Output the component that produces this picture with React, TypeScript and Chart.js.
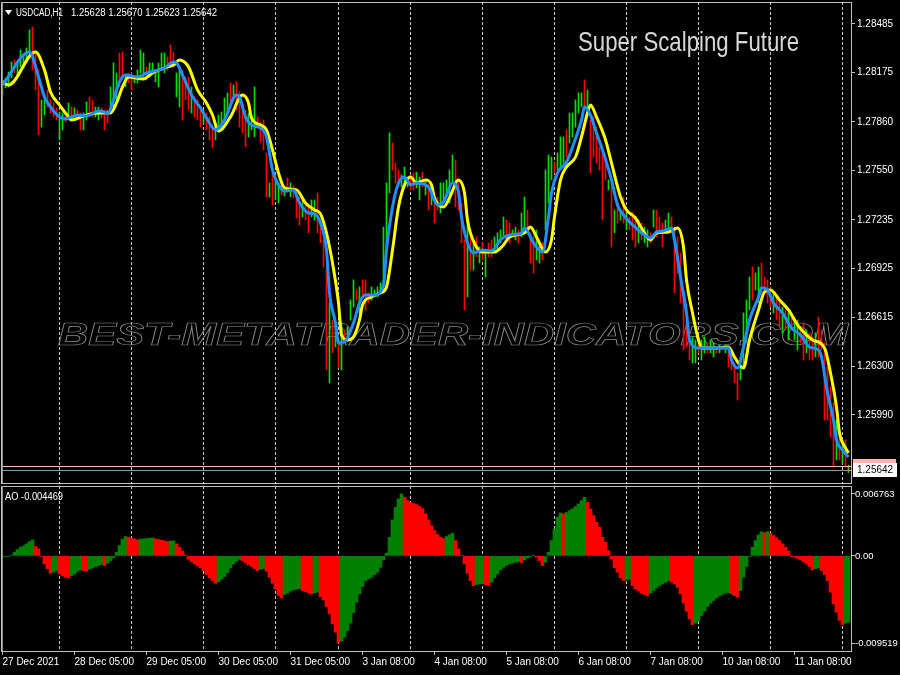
import React, { useEffect, useRef } from 'react';
import { Chart, registerables } from 'chart.js';

Chart.register(...registerables);

// ---------- data ----------
const tickLabels = ['27 Dec 2021', '28 Dec 05:00', '29 Dec 05:00', '30 Dec 05:00', '31 Dec 05:00', '3 Jan 08:00', '4 Jan 08:00', '5 Jan 08:00', '6 Jan 08:00', '7 Jan 08:00', '10 Jan 08:00', '11 Jan 08:00'];
const tickIdx = [0, 24, 48, 72, 96, 120, 144, 168, 192, 216, 240, 264];
const dayStartIdx = [19, 43, 67, 91, 112, 136, 160, 184, 208, 232, 256, 280];
const priceTicks = [1.28485, 1.28175, 1.2786, 1.2755, 1.27235, 1.26925, 1.26615, 1.263, 1.2599];
const aoTicks = [0.006763, 0, -0.009519];

const highs = [
  1.28128, 1.2814, 1.28178, 1.28242, 1.28255, 1.28242, 1.28319, 1.28287, 1.28332, 1.28447,
  1.28465, 1.283, 1.28191, 1.28, 1.28032, 1.28064, 1.28, 1.27981, 1.27949, 1.27923,
  1.27917, 1.27923, 1.27981, 1.27955, 1.27949, 1.27936, 1.27917, 1.27917, 1.27987, 1.28019,
  1.28, 1.27955, 1.27955, 1.27949, 1.27936, 1.27936, 1.28083, 1.28236, 1.28172, 1.283,
  1.28306, 1.28159, 1.28172, 1.28172, 1.28146, 1.28191, 1.28319, 1.283, 1.2821, 1.28236,
  1.28236, 1.28191, 1.28236, 1.283, 1.283, 1.28274, 1.28351, 1.28306, 1.28172, 1.28191,
  1.28191, 1.28146, 1.28146, 1.28083, 1.28019, 1.28, 1.27955, 1.27936, 1.27917, 1.27891,
  1.27827, 1.27853, 1.27904, 1.27923, 1.28013, 1.28045, 1.28109, 1.28096, 1.28115, 1.28051,
  1.27981, 1.27936, 1.27917, 1.27904, 1.28083, 1.27891, 1.27859, 1.27872, 1.27662, 1.27471,
  1.27534, 1.2749, 1.27471, 1.27458, 1.27452, 1.27502, 1.27471, 1.27452, 1.27407, 1.27381,
  1.27362, 1.27343, 1.27317, 1.27362, 1.27362, 1.27407, 1.27234, 1.27107, 1.26934, 1.26705,
  1.26596, 1.26577, 1.26469, 1.26583, 1.26533, 1.26551, 1.26724, 1.26852, 1.26788, 1.26807,
  1.26852, 1.26852, 1.26769, 1.26807, 1.26788, 1.26807, 1.26833, 1.27189, 1.27471, 1.2779,
  1.27726, 1.27598, 1.27553, 1.27521, 1.27572, 1.27508, 1.27521, 1.27534, 1.2754, 1.27508,
  1.2754, 1.2749, 1.27458, 1.27439, 1.27343, 1.27381, 1.27471, 1.27471, 1.2749, 1.27553,
  1.27649, 1.27617, 1.27471, 1.27343, 1.27107, 1.27234, 1.27126, 1.27088, 1.27126, 1.27062,
  1.27088, 1.27043, 1.27088, 1.27107, 1.27126, 1.27152, 1.27171, 1.27253, 1.27234, 1.27215,
  1.27171, 1.27189, 1.27171, 1.27279, 1.27381, 1.27298, 1.27152, 1.27126, 1.27171, 1.27088,
  1.27088, 1.27553, 1.27649, 1.27636, 1.27598, 1.27662, 1.27764, 1.27764, 1.27809, 1.27917,
  1.27917, 1.28, 1.28045, 1.28045, 1.28128, 1.28064, 1.27872, 1.27891, 1.27827, 1.277,
  1.27681, 1.27636, 1.2749, 1.27471, 1.27298, 1.27343, 1.27298, 1.27381, 1.27279, 1.27253,
  1.27285, 1.27253, 1.27234, 1.27215, 1.27189, 1.27171, 1.27152, 1.27298, 1.27298, 1.27253,
  1.27215, 1.27234, 1.27279, 1.27253, 1.27189, 1.27126, 1.27024, 1.26769, 1.26596, 1.26514,
  1.26488, 1.26469, 1.2645, 1.26469, 1.26488, 1.2645, 1.26469, 1.2645, 1.26424, 1.26437,
  1.26424, 1.26437, 1.26405, 1.26386, 1.26322, 1.26258, 1.26296, 1.26641, 1.26724, 1.2687,
  1.26934, 1.26896, 1.26934, 1.2696, 1.2687, 1.26852, 1.26807, 1.26769, 1.26743, 1.26724,
  1.26679, 1.2666, 1.26641, 1.26641, 1.26615, 1.26596, 1.26551, 1.26577, 1.26533, 1.26514,
  1.26488, 1.26514, 1.26615, 1.26533, 1.2645, 1.26296, 1.26169, 1.26067, 1.25958, 1.25876,
  1.25831, 1.25831, 1.2567,
];

const lows = [
  1.28032, 1.28077, 1.28083, 1.2814, 1.28172, 1.28159, 1.2821, 1.28204, 1.28236, 1.28274,
  1.28191, 1.28064, 1.27777, 1.27827, 1.27904, 1.27955, 1.27917, 1.27891, 1.27872, 1.27745,
  1.27809, 1.27859, 1.27872, 1.27872, 1.27891, 1.27872, 1.27809, 1.27809, 1.27872, 1.27917,
  1.27891, 1.27891, 1.27872, 1.27885, 1.27809, 1.27853, 1.27917, 1.27955, 1.28, 1.28083,
  1.28146, 1.28083, 1.28109, 1.28064, 1.28109, 1.28109, 1.28172, 1.28146, 1.28128, 1.28146,
  1.28172, 1.28115, 1.28083, 1.28191, 1.28172, 1.28191, 1.2821, 1.2821, 1.28019, 1.27955,
  1.27872, 1.28, 1.27936, 1.27917, 1.27891, 1.27872, 1.27827, 1.27853, 1.27809, 1.27745,
  1.27694, 1.27745, 1.27796, 1.27827, 1.27853, 1.27917, 1.27981, 1.28, 1.27936, 1.27827,
  1.2779, 1.277, 1.27764, 1.27809, 1.27764, 1.27827, 1.27732, 1.27681, 1.27381, 1.27381,
  1.2733, 1.27362, 1.27343, 1.27394, 1.27388, 1.27413, 1.27381, 1.27375, 1.27247, 1.27202,
  1.27253, 1.27234, 1.27152, 1.27253, 1.27234, 1.27152, 1.27088, 1.26934, 1.26277, 1.26195,
  1.26386, 1.26424, 1.2629, 1.26277, 1.2645, 1.26488, 1.26596, 1.26679, 1.26724, 1.26641,
  1.26743, 1.2666, 1.26705, 1.26724, 1.26743, 1.26743, 1.26769, 1.26788, 1.27062, 1.27407,
  1.27553, 1.27471, 1.27445, 1.27445, 1.27445, 1.27445, 1.27426, 1.27426, 1.27439, 1.27362,
  1.27445, 1.27394, 1.27298, 1.2733, 1.27215, 1.27298, 1.27279, 1.27343, 1.27381, 1.27343,
  1.27471, 1.27317, 1.27298, 1.27088, 1.2666, 1.26743, 1.26915, 1.26915, 1.26998, 1.2696,
  1.26979, 1.2687, 1.26998, 1.26998, 1.27024, 1.27043, 1.27088, 1.27126, 1.27107, 1.27088,
  1.27126, 1.27107, 1.27088, 1.27126, 1.27189, 1.27152, 1.2696, 1.26896, 1.26979, 1.2696,
  1.26979, 1.27171, 1.27343, 1.2749, 1.27534, 1.27553, 1.27572, 1.27598, 1.27636, 1.27726,
  1.27764, 1.27827, 1.27917, 1.27955, 1.27955, 1.27936, 1.27534, 1.27636, 1.27598, 1.27553,
  1.27234, 1.2749, 1.27426, 1.27062, 1.27152, 1.27215, 1.27234, 1.27215, 1.27171, 1.27171,
  1.27107, 1.27062, 1.27088, 1.27107, 1.27088, 1.27062, 1.27088, 1.27189, 1.27126, 1.27152,
  1.27062, 1.27152, 1.27171, 1.27152, 1.26769, 1.26896, 1.26705, 1.26405, 1.26424, 1.26341,
  1.26322, 1.26322, 1.26386, 1.26341, 1.26386, 1.26386, 1.26386, 1.2636, 1.26386, 1.26386,
  1.26405, 1.26386, 1.26296, 1.26277, 1.26195, 1.26086, 1.26214, 1.26296, 1.26469, 1.2666,
  1.26724, 1.26788, 1.26705, 1.26743, 1.26769, 1.26705, 1.26679, 1.26641, 1.26596, 1.26551,
  1.26514, 1.26533, 1.26469, 1.26551, 1.26469, 1.26405, 1.2645, 1.26341, 1.26386, 1.26341,
  1.26341, 1.2636, 1.2636, 1.26405, 1.25958, 1.25958, 1.2585, 1.25658, 1.25703, 1.25703,
  1.25684, 1.25658, 1.25623,
];

const upBars = [
  0, 1, 1, 1, 0, 1, 1, 1, 1, 1, 0, 0, 0, 1, 1, 0, 0, 0, 0, 1,
  1, 0, 1, 0, 1, 0, 0, 1, 1, 0, 0, 1, 1, 0, 0, 0, 1, 1, 1, 0,
  0, 1, 0, 0, 1, 1, 1, 1, 0, 1, 1, 1, 1, 1, 1, 0, 0, 0, 1, 1,
  0, 0, 0, 1, 0, 0, 0, 1, 0, 0, 0, 1, 1, 1, 1, 1, 0, 1, 0, 0,
  0, 0, 1, 1, 1, 0, 0, 0, 0, 1, 0, 1, 1, 0, 1, 0, 1, 0, 0, 0,
  1, 0, 0, 1, 1, 0, 0, 0, 0, 1, 0, 1, 0, 1, 0, 1, 1, 1, 0, 1,
  0, 0, 0, 1, 1, 1, 1, 1, 1, 1, 0, 0, 0, 1, 1, 1, 0, 0, 1, 1,
  0, 1, 0, 1, 0, 0, 1, 1, 1, 1, 1, 0, 0, 0, 0, 1, 0, 1, 0, 1,
  0, 1, 0, 0, 1, 1, 1, 1, 0, 0, 1, 1, 0, 1, 1, 0, 0, 0, 1, 1,
  0, 1, 1, 1, 0, 1, 1, 1, 0, 1, 1, 1, 1, 1, 0, 1, 0, 0, 0, 0,
  0, 0, 1, 0, 1, 0, 1, 0, 1, 0, 0, 0, 1, 0, 1, 1, 0, 1, 0, 0,
  0, 1, 1, 0, 0, 0, 0, 0, 0, 0, 1, 1, 0, 1, 1, 0, 1, 1, 0, 1,
  0, 1, 0, 0, 0, 0, 1, 1, 1, 1, 0, 1, 1, 0, 0, 0, 0, 1, 0, 0,
  1, 0, 1, 0, 1, 1, 0, 0, 1, 0, 0, 1, 0, 0, 0, 0, 0, 0, 1, 0,
  1, 0, 1,
];

const bluePoints = [
  [0, 1.28096], [9, 1.28306], [12, 1.28147], [14, 1.28019], [16, 1.27955], [19, 1.27892], [21, 1.27879], [25, 1.27904],
  [28, 1.27898], [32, 1.2793], [34, 1.27923], [35, 1.27911], [37, 1.28], [39, 1.28115], [41, 1.2816], [45, 1.28147],
  [48, 1.28172], [52, 1.28191], [54, 1.28204], [57, 1.28242], [58, 1.28236], [60, 1.2816], [63, 1.28032], [66, 1.27949],
  [68, 1.27885], [71, 1.27809], [74, 1.27872], [78, 1.28032], [79, 1.28019], [81, 1.27892], [83, 1.2784], [86, 1.27821],
  [88, 1.27764], [90, 1.27553], [92, 1.27458], [94, 1.27419], [97, 1.27426], [99, 1.27343], [102, 1.27279], [104, 1.27273],
  [106, 1.27215], [108, 1.27043], [109, 1.26769], [111, 1.26577], [112, 1.2645], [114, 1.26456], [117, 1.26577], [119, 1.26705],
  [121, 1.26756], [124, 1.26756], [127, 1.2682], [128, 1.27043], [130, 1.27317], [132, 1.2747], [134, 1.27509], [136, 1.27458],
  [138, 1.2747], [142, 1.27445], [145, 1.2733], [147, 1.27349], [150, 1.2747], [152, 1.27413], [153, 1.27254], [155, 1.27088],
  [157, 1.27024], [160, 1.27043], [163, 1.27037], [166, 1.27107], [169, 1.27139], [173, 1.27151], [174, 1.27183], [177, 1.27088],
  [180, 1.2703], [182, 1.27254], [183, 1.27407], [185, 1.27534], [188, 1.27604], [190, 1.277], [193, 1.27872], [194, 1.27955],
  [196, 1.27904], [198, 1.27789], [200, 1.27681], [203, 1.2749], [205, 1.2733], [207, 1.27266], [209, 1.27222], [214, 1.27139],
  [216, 1.2712], [218, 1.27158], [220, 1.27164], [223, 1.27183], [224, 1.27107], [226, 1.26871], [228, 1.26641], [229, 1.26469],
  [232, 1.26418], [235, 1.26418], [239, 1.26418], [242, 1.26418], [243, 1.26341], [245, 1.2629], [247, 1.26424], [249, 1.26596],
  [252, 1.26743], [253, 1.26801], [255, 1.26788], [257, 1.26705], [260, 1.26641], [263, 1.26545], [266, 1.26501], [269, 1.26424],
  [272, 1.26405], [273, 1.2636], [275, 1.26131], [277, 1.25958], [278, 1.25831], [280, 1.25767], [282, 1.25722],
];

const yellowPoints = [
  [0, 1.28115], [2, 1.28096], [11, 1.28306], [14, 1.28191], [16, 1.28051], [19, 1.27968], [22, 1.27892], [23, 1.27872],
  [27, 1.27898], [32, 1.27917], [36, 1.27917], [38, 1.27981], [40, 1.28083], [42, 1.28147], [47, 1.28134], [50, 1.28172],
  [55, 1.28211], [57, 1.28223], [59, 1.28255], [62, 1.28211], [65, 1.28064], [68, 1.27981], [70, 1.27904], [72, 1.27802],
  [76, 1.27892], [80, 1.28032], [82, 1.27981], [83, 1.27885], [86, 1.2784], [88, 1.27809], [90, 1.27681], [92, 1.27534],
  [94, 1.27439], [98, 1.27426], [101, 1.27343], [104, 1.27298], [106, 1.27273], [108, 1.27151], [110, 1.2696], [112, 1.26705],
  [113, 1.26501], [115, 1.26469], [117, 1.26488], [119, 1.26596], [120, 1.26692], [123, 1.26743], [126, 1.26769], [128, 1.26807],
  [130, 1.27043], [132, 1.27317], [134, 1.27458], [136, 1.27509], [138, 1.2747], [141, 1.2749], [143, 1.27458], [144, 1.27375],
  [147, 1.27317], [149, 1.27375], [152, 1.2749], [154, 1.27407], [155, 1.27234], [158, 1.27062], [160, 1.2703], [164, 1.2703],
  [167, 1.27075], [169, 1.27126], [174, 1.27151], [176, 1.2719], [178, 1.27126], [181, 1.2703], [183, 1.27107], [184, 1.27254],
  [186, 1.2749], [188, 1.27573], [191, 1.27636], [193, 1.27764], [195, 1.27917], [196, 1.27968], [198, 1.27892], [201, 1.27745],
  [203, 1.27598], [206, 1.27381], [208, 1.27298], [211, 1.27247], [213, 1.27183], [216, 1.27107], [218, 1.27151], [222, 1.27158],
  [225, 1.27183], [227, 1.27062], [228, 1.26852], [230, 1.26641], [232, 1.26469], [233, 1.26418], [238, 1.26418], [242, 1.26424],
  [244, 1.2636], [247, 1.2629], [249, 1.26469], [252, 1.2666], [254, 1.26775], [256, 1.26788], [259, 1.26724], [262, 1.2666],
  [265, 1.26565], [267, 1.2652], [270, 1.26469], [274, 1.26418], [276, 1.26258], [278, 1.26041], [279, 1.25876], [281, 1.2578],
  [282, 1.25748],
];

const aoValues = [
  -0.000109, -0.000073, -0.000036, 0.000073, 0.0004, 0.000692, 0.000946, 0.001092, 0.00131, 0.001565,
  0.001747, 0.001019, 0.000764, -0.000036, -0.000874, -0.00142, -0.001893, -0.001784, -0.001602, -0.001966,
  -0.002184, -0.00233, -0.002402, -0.002148, -0.001966, -0.001674, -0.001529, -0.001602, -0.001674, -0.001456,
  -0.00131, -0.001165, -0.001056, -0.000946, -0.001056, -0.000801, -0.00051, -0.000218, 0.0004, 0.001128,
  0.00182, 0.002111, 0.002038, 0.001966, 0.001856, 0.001747, 0.00182, 0.001856, 0.001893, 0.001929,
  0.001966, 0.001856, 0.001784, 0.001711, 0.001638, 0.001565, 0.001602, 0.001638, 0.00131, 0.000946,
  0.00051, 0.000073, -0.000364, -0.000655, -0.000874, -0.001092, -0.00131, -0.001602, -0.002038, -0.002402,
  -0.002694, -0.002985, -0.002839, -0.002548, -0.002257, -0.00182, -0.00131, -0.000874, -0.000582, -0.000364,
  -0.00051, -0.000728, -0.000946, -0.001165, -0.001383, -0.001602, -0.001456, -0.001383, -0.001674, -0.00233,
  -0.002985, -0.00364, -0.004332, -0.004586, -0.004222, -0.004077, -0.003858, -0.003713, -0.00364, -0.003567,
  -0.003786, -0.003895, -0.00404, -0.00415, -0.00404, -0.003968, -0.004441, -0.004805, -0.005533, -0.006334,
  -0.007426, -0.008336, -0.009519, -0.0093, -0.008882, -0.008154, -0.007353, -0.006188, -0.00506, -0.00415,
  -0.003349, -0.002694, -0.002512, -0.00233, -0.002038, -0.001784, -0.001238, -0.000437, 0.000291, 0.002038,
  0.003931, 0.005314, 0.006224, 0.006763, 0.006406, 0.006042, 0.005824, 0.005715, 0.005606, 0.005424,
  0.005169, 0.004586, 0.003931, 0.003312, 0.002766, 0.00233, 0.002038, 0.001893, 0.002111, 0.002293,
  0.002475, 0.001674, 0.000764, 0.000073, -0.000874, -0.001893, -0.002694, -0.00324, -0.00313, -0.003058,
  -0.002985, -0.00313, -0.00324, -0.002876, -0.002402, -0.001966, -0.001529, -0.001238, -0.001019, -0.000874,
  -0.000764, -0.000692, -0.000619, -0.000728, -0.000437, -0.000218, -0.000073, 0.000073, -0.000146, -0.00051,
  -0.001056, -0.000692, 0.0004, 0.001674, 0.002948, 0.004222, 0.004696, 0.004586, 0.004732, 0.00495,
  0.005132, 0.005387, 0.005678, 0.006042, 0.006406, 0.00586, 0.005132, 0.004404, 0.003676, 0.00313,
  0.002038, 0.001492, 0.000582, -0.000328, -0.00131, -0.001784, -0.002402, -0.002694, -0.002621, -0.002548,
  -0.00324, -0.003604, -0.003786, -0.004077, -0.004222, -0.004332, -0.004077, -0.003786, -0.003494, -0.00324,
  -0.003058, -0.002876, -0.002694, -0.002839, -0.003058, -0.003422, -0.00415, -0.005169, -0.006042, -0.00688,
  -0.007498, -0.007353, -0.007062, -0.006516, -0.006042, -0.005533, -0.005169, -0.004878, -0.004586, -0.004368,
  -0.004186, -0.004077, -0.004004, -0.00415, -0.004332, -0.004514, -0.003786, -0.00233, -0.001165, -0.000073,
  0.000946, 0.001674, 0.002293, 0.002621, 0.002512, 0.002657, 0.002475, 0.00222, 0.001966, 0.001674,
  0.00131, 0.000946, 0.00051, -0.000073, -0.000146, -0.000291, -0.000437, -0.000655, -0.000874, -0.001165,
  -0.001529, -0.001383, -0.00131, -0.001602, -0.002038, -0.002694, -0.003968, -0.005242, -0.006152, -0.007062,
  -0.007498, -0.007353, -0.007244,
];

const askPrice = 1.25665;
const bidPrice = 1.25642;
const headerSymbol = 'USDCAD,H1';
const headerOHLC = '1.25628 1.25670 1.25623 1.25642';
const titleText = 'Super Scalping Future';
const watermarkText = 'BEST-METATRADER-INDICATORS.COM';
const aoLabel = 'AO -0.004469';

// ---------- style ----------
const FONT = '"Liberation Sans", Arial, sans-serif';
const AXIS_W = 49;
const X_MIN = -0.5;
const X_MAX = 282.8333;
const FRAME = '#c0c0c0';

function fitText(ctx: CanvasRenderingContext2D, text: string, x: number, y: number, w: number) {
  const m = ctx.measureText(text).width;
  ctx.save();
  ctx.translate(x, y);
  ctx.scale(w / m, 1);
  ctx.fillText(text, 0, 0);
  ctx.restore();
}

const noPad = (s: any) => {
  s.paddingTop = 0;
  s.paddingBottom = 0;
  s.paddingLeft = 0;
  s.paddingRight = 0;
};

const dashedGrid = {
  id: 'dashedGrid',
  beforeDatasetsDraw(chart: any) {
    const { ctx, chartArea } = chart;
    const xs = chart.scales.x;
    ctx.save();
    ctx.strokeStyle = '#c8c8c8';
    ctx.lineWidth = 1;
    ctx.setLineDash([3, 2]);
    dayStartIdx.forEach((d) => {
      const x = Math.round(xs.getPixelForValue(d) - 0.5) + 0.5;
      ctx.beginPath();
      ctx.moveTo(x, chartArea.top);
      ctx.lineTo(x, chartArea.bottom);
      ctx.stroke();
    });
    ctx.restore();
  },
};

const frame = {
  id: 'frame',
  afterDraw(chart: any) {
    const { ctx, chartArea } = chart;
    ctx.save();
    ctx.strokeStyle = FRAME;
    ctx.lineWidth = 1;
    ctx.strokeRect(chartArea.left + 0.5, chartArea.top + 0.5, chartArea.right - chartArea.left, chartArea.bottom - chartArea.top);
    ctx.strokeStyle = '#909090';
    ctx.beginPath();
    ctx.moveTo(chartArea.left + 1.5, chartArea.top);
    ctx.lineTo(chartArea.left + 1.5, chartArea.bottom);
    ctx.stroke();
    ctx.restore();
  },
};

const mainDecor = {
  id: 'mainDecor',
  beforeDatasetsDraw(chart: any) {
    const { ctx } = chart;
    ctx.save();
    ctx.font = `italic bold 31px ${FONT}`;
    const w = ctx.measureText(watermarkText).width;
    ctx.translate(58, 345);
    ctx.scale(790 / w, 1);
    ctx.strokeStyle = '#8c8c8c';
    ctx.lineWidth = 0.7;
    ctx.strokeText(watermarkText, 0, 0);
    ctx.restore();
  },
  afterDatasetsDraw(chart: any) {
    const { ctx, chartArea } = chart;
    const ys = chart.scales.y;
    ctx.save();
    ctx.lineWidth = 1;
    const ya = Math.round(ys.getPixelForValue(askPrice)) + 0.5;
    ctx.strokeStyle = '#ffb4b4';
    ctx.beginPath();
    ctx.moveTo(chartArea.left, ya);
    ctx.lineTo(chartArea.right, ya);
    ctx.stroke();
    const yb = Math.round(ys.getPixelForValue(bidPrice)) + 0.5;
    ctx.strokeStyle = '#8c96a8';
    ctx.beginPath();
    ctx.moveTo(chartArea.left, yb);
    ctx.lineTo(chartArea.right, yb);
    ctx.stroke();
    ctx.restore();
  },
  afterDraw(chart: any) {
    const { ctx, chartArea } = chart;
    const ys = chart.scales.y;
    ctx.save();
    // header
    ctx.fillStyle = '#ffffff';
    ctx.beginPath();
    ctx.moveTo(5, 10);
    ctx.lineTo(12, 10);
    ctx.lineTo(8.5, 15);
    ctx.closePath();
    ctx.fill();
    ctx.font = `10px ${FONT}`;
    ctx.textBaseline = 'middle';
    ctx.textAlign = 'left';
    fitText(ctx, headerSymbol, 16, 13, 47);
    fitText(ctx, headerOHLC, 71, 13, 146);
    // title
    ctx.font = `28px "Liberation Sans Narrow", ${FONT}`;
    ctx.textBaseline = 'alphabetic';
    ctx.fillStyle = '#d8d8d8';
    fitText(ctx, titleText, 578, 51, 221);
    // price labels
    const ya = ys.getPixelForValue(askPrice);
    const yb = ys.getPixelForValue(bidPrice);
    const x0 = chartArea.right + 2;
    ctx.fillStyle = '#ffb4b4';
    ctx.fillRect(x0, Math.round(ya) - 7, 43, 14);
    ctx.fillStyle = '#ffffff';
    ctx.fillRect(x0, Math.round(yb) - 7, 44, 14);
    ctx.fillStyle = '#000000';
    ctx.font = `10px ${FONT}`;
    ctx.textBaseline = 'middle';
    ctx.fillText(bidPrice.toFixed(5), chartArea.right + 6, Math.round(yb) + 0.5);
    ctx.restore();
  },
};

const aoDecor = {
  id: 'aoDecor',
  afterDraw(chart: any) {
    const { ctx } = chart;
    ctx.save();
    ctx.fillStyle = '#ffffff';
    ctx.font = `10px ${FONT}`;
    ctx.textBaseline = 'middle';
    ctx.textAlign = 'left';
    fitText(ctx, aoLabel, 5, 13, 58);
    ctx.restore();
  },
};

export default function App() {
  const mainRef = useRef<HTMLCanvasElement>(null);
  const aoRef = useRef<HTMLCanvasElement>(null);

  useEffect(() => {
    Chart.defaults.font.family = FONT;
    const barData = highs.map((h, i) => ({ x: i, y: [lows[i], h] }));
    const blueData = bluePoints.map((p) => ({ x: p[0], y: p[1] }));
    const yellowData = yellowPoints.map((p) => ({ x: p[0], y: p[1] }));

    const c1 = new Chart(mainRef.current as HTMLCanvasElement, {
      type: 'bar',
      data: {
        datasets: [
          {
            type: 'bar',
            data: barData as any,
            barThickness: 1,
            borderWidth: 0,
            backgroundColor: (c: any) => (upBars[c.dataIndex] ? '#00dd00' : '#ff0000'),
            order: 3,
          },
          {
            type: 'line',
            data: yellowData as any,
            borderColor: '#ffff00',
            borderWidth: 3,
            pointRadius: 0,
            cubicInterpolationMode: 'monotone',
            order: 2,
          },
          {
            type: 'line',
            data: blueData as any,
            borderColor: '#1e90ff',
            borderWidth: 3,
            pointRadius: 0,
            cubicInterpolationMode: 'monotone',
            order: 1,
          },
        ] as any,
      },
      options: {
        responsive: false,
        animation: false,
        devicePixelRatio: 1,
        events: [],
        layout: { padding: { left: 1, top: 2, right: 0, bottom: 1 } },
        plugins: { legend: { display: false }, tooltip: { enabled: false } },
        scales: {
          x: { type: 'linear', min: X_MIN, max: X_MAX, display: false, offset: false, grid: { offset: false }, afterFit: noPad },
          y: {
            type: 'linear',
            position: 'right',
            min: 1.25556,
            max: 1.28625,
            afterFit: (s: any) => {
              s.width = AXIS_W;
              noPad(s);
            },
            afterBuildTicks: (s: any) => {
              s.ticks = priceTicks.map((v) => ({ value: v }));
            },
            ticks: {
              color: '#ffffff',
              font: { size: 10, family: FONT },
              padding: 2,
              callback: (v: any) => Number(v).toFixed(5),
            },
            grid: { drawOnChartArea: false, color: FRAME, tickLength: 4 },
            border: { display: false },
          },
        },
      } as any,
      plugins: [dashedGrid, mainDecor, frame],
    });

    const aoData = aoValues.map((v, i) => ({ x: i, y: v }));
    const c2 = new Chart(aoRef.current as HTMLCanvasElement, {
      type: 'bar',
      data: {
        datasets: [
          {
            data: aoData as any,
            barThickness: 3,
            borderWidth: 0,
            backgroundColor: (c: any) => {
              const i = c.dataIndex;
              if (i === 0) return '#008000';
              return aoValues[i] >= aoValues[i - 1] ? '#008000' : '#ff0000';
            },
          },
        ],
      },
      options: {
        responsive: false,
        animation: false,
        devicePixelRatio: 1,
        events: [],
        layout: { padding: { left: 1, top: 2, right: 0, bottom: 0 } },
        plugins: { legend: { display: false }, tooltip: { enabled: false } },
        scales: {
          x: {
            type: 'linear',
            min: X_MIN,
            max: X_MAX,
            offset: false,
            afterFit: (s: any) => {
              s.height = 24;
              noPad(s);
            },
            afterBuildTicks: (s: any) => {
              s.ticks = tickIdx.map((v) => ({ value: v }));
            },
            ticks: {
              color: '#ffffff',
              font: { size: 10, family: FONT },
              padding: 1,
              align: 'start',
              autoSkip: false,
              maxRotation: 0,
              callback: (v: any) => {
                const k = tickIdx.indexOf(Number(v));
                return k >= 0 ? tickLabels[k] : '';
              },
            },
            grid: { drawOnChartArea: false, color: FRAME, tickLength: 4, offset: false },
            border: { display: false },
          },
          y: {
            type: 'linear',
            position: 'right',
            min: -0.010393,
            max: 0.007637,
            afterFit: (s: any) => {
              s.width = AXIS_W;
              noPad(s);
            },
            afterBuildTicks: (s: any) => {
              s.ticks = aoTicks.map((v) => ({ value: v }));
            },
            ticks: {
              color: '#ffffff',
              font: { size: 9.5, family: FONT },
              padding: 0,
              callback: (v: any) => (Number(v) === 0 ? '0.00' : Number(v).toFixed(6)),
            },
            grid: { drawOnChartArea: false, color: FRAME, tickLength: 4 },
            border: { display: false },
          },
        },
      } as any,
      plugins: [dashedGrid, aoDecor, frame],
    });

    return () => {
      c1.destroy();
      c2.destroy();
    };
  }, []);

  return (
    <div style={{ position: 'fixed', left: 0, top: 0, width: 900, height: 675, background: '#000', overflow: 'hidden' }}>
      <canvas ref={mainRef} width={900} height={484} style={{ position: 'absolute', left: 0, top: 0, width: 900, height: 484 }} />
      <canvas ref={aoRef} width={900} height={191} style={{ position: 'absolute', left: 0, top: 484, width: 900, height: 191 }} />
    </div>
  );
}
